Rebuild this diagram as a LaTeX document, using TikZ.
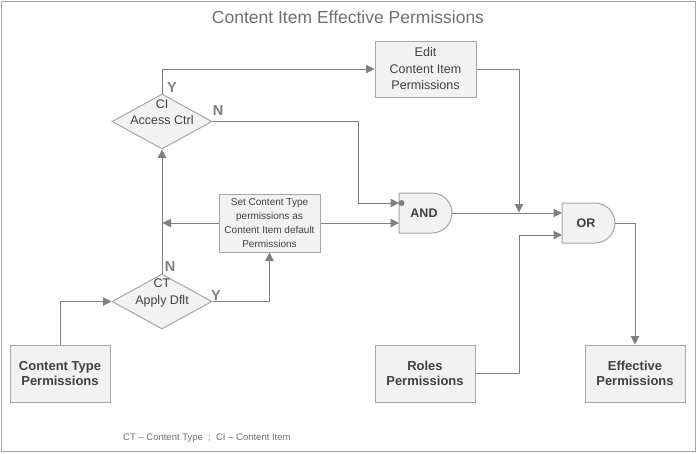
\documentclass[tikz,border=0pt]{standalone}
\usepackage{fontspec}
\setmainfont{Liberation Sans}
\usetikzlibrary{shapes.geometric,arrows.meta,calc}
\definecolor{linec}{HTML}{808080}
\definecolor{boxc}{HTML}{A6A6A6}
\definecolor{fillc}{HTML}{F2F2F2}
\definecolor{txtc}{HTML}{404040}
\definecolor{lblc}{HTML}{7F7F7F}
\definecolor{titc}{HTML}{707070}
\begin{document}
\begin{tikzpicture}[x=1pt,y=-1pt,
  box/.style={draw=boxc, fill=fillc, line width=1pt, text=txtc, align=center, inner sep=0pt, minimum width=101pt, minimum height=57pt},
  dec/.style={diamond, draw=boxc, fill=fillc, line width=1pt, inner sep=0pt, minimum width=100pt, minimum height=55pt},
  conn/.style={draw=linec, line width=1pt, -{Triangle[length=8.5pt,width=8.5pt]}},
  gate/.style={draw=boxc, fill=fillc, line width=1pt},
  yn/.style={text=lblc, font=\fontsize{14.5}{16}\selectfont\bfseries, inner sep=0pt},
  norm/.style={font=\fontsize{12.5}{16.5}\selectfont, text=txtc, align=center, inner sep=0pt},
  bld/.style={font=\fontsize{13}{15}\selectfont\bfseries},
  small/.style={font=\fontsize{10}{14}\selectfont}
]
\useasboundingbox (0,0) rectangle (696,453);
\fill[white] (0,0) rectangle (696,453);
\draw[boxc, line width=1pt] (1,1) rectangle (695,451);

\node[text=titc, font=\fontsize{17.5}{19}\selectfont, inner sep=0pt] (title) at (348,17) {Content Item Effective Permissions};

% boxes
\node[box, norm, minimum height=56pt] (edit) at (425.5,69) {Edit\\Content Item\\Permissions};
\node[box, small, minimum height=58pt] (setb) at (269.5,223) {Set Content Type\\permissions as\\Content Item default\\Permissions};
\node[box, bld, minimum width=100pt] (ctp) at (60,373.5) {Content Type\\Permissions};
\node[box, bld, minimum width=100pt] (roles) at (425,373.5) {Roles\\Permissions};
\node[box, bld, minimum width=100pt] (eff) at (635,373.5) {Effective\\Permissions};

% decisions
\node[dec] (ci) at (162,121.5) {};
\node[norm] (citext) at (162,112) {CI\\Access Ctrl};
\node[dec] (ct) at (162,301.5) {};
\node[norm] (cttext) at (162,293) {CT\\Apply Dflt};

% gates
\draw[gate] (399,193) -- (432,193) .. controls (443,193) and (452,202) .. (452,213)
  .. controls (452,224) and (443,233) .. (432,233) -- (399,233) -- cycle;
\node[text=txtc, font=\fontsize{12.5}{15}\selectfont\bfseries, inner sep=0pt] (and) at (424,213) {AND};
\draw[gate] (562,203) -- (595,203) .. controls (606,203) and (615,212) .. (615,223)
  .. controls (615,234) and (606,243) .. (595,243) -- (562,243) -- cycle;
\node[text=txtc, font=\fontsize{12.5}{15}\selectfont\bfseries, inner sep=0pt] (or) at (586,223) {OR};

\coordinate (andin1) at (399,203);
\coordinate (andin2) at (399,223);
\coordinate (andout) at (452,213);
\coordinate (orin1) at (562,213);
\coordinate (orin2) at (562,235);
\coordinate (orout) at (615,223);
\coordinate (merge) at (519,212.5);
\coordinate (vl) at (162.5,223);

% connectors
\draw[conn] (ci.north) |- (edit.west);
\draw[conn] (ci.east) -| (358,203) -- (andin1);
\fill[linec] (401.5,203) circle (3pt);
\draw[conn] (setb.west) -- (vl);
\draw[conn] (setb.east) -- (andin2);
\draw[conn] (ct.north) -- (ci.south);
\draw[conn] (ct.east) -| (setb.south);
\draw[conn] (ctp.north) |- (ct.west);
\draw[conn] (andout) -- (orin1);
\draw[conn] (edit.east) -| (merge);
\draw[conn] (roles.east) -- ++(44,0) |- (orin2);
\draw[conn] (orout) -| (eff.north);

% Y/N labels
\node[yn] (ciy) at (172,88) {Y};
\node[yn] (cin) at (218,111) {N};
\node[yn] (ctn) at (170,267) {N};
\node[yn] (cty) at (216,296) {Y};

\node[text=titc, font=\fontsize{9.5}{11}\selectfont, inner sep=0pt, anchor=west] (foot) at (123,438) {CT -- Content Type \ ; \ CI -- Content Item};
\end{tikzpicture}
\end{document}
